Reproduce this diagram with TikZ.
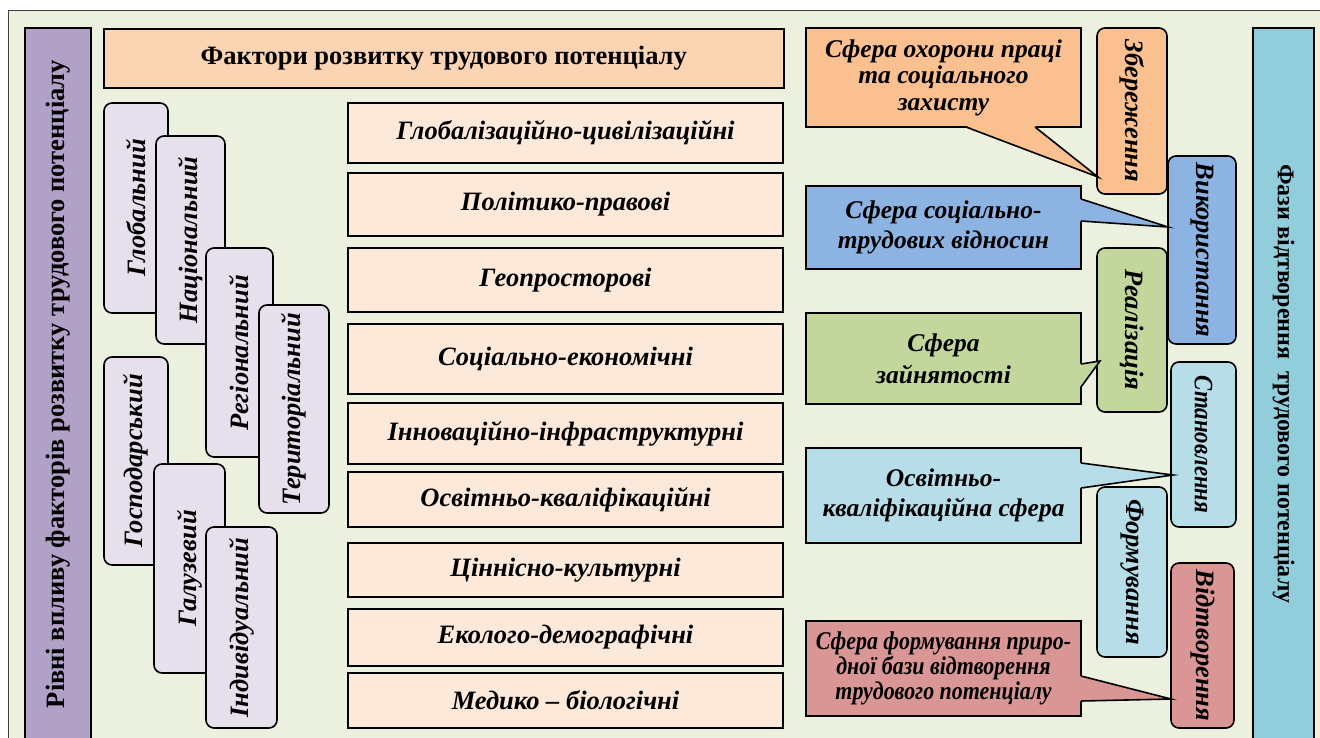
\documentclass[tikz,border=0pt]{standalone}
\usepackage{fontspec}
\setmainfont{Liberation Serif}
\newfontfamily\condserif[FakeStretch=0.86]{Liberation Serif}
\usepackage{tikz}
\usetikzlibrary{positioning,calc}

\definecolor{bgGreen}{HTML}{EBF1DE}
\definecolor{lvlPurple}{HTML}{B2A1C7}
\definecolor{titleOrange}{HTML}{FBD4B4}
\definecolor{fctPeach}{HTML}{FDE9D9}
\definecolor{lvlLav}{HTML}{E5E0EC}
\definecolor{zbOrange}{HTML}{FAC090}
\definecolor{vkBlue}{HTML}{8DB3E2}
\definecolor{rlGreen}{HTML}{C3D69B}
\definecolor{stCyan}{HTML}{B7DEE8}
\definecolor{vtRed}{HTML}{D99694}
\definecolor{phTeal}{HTML}{92CDDC}

\newcommand{\bigtxt}{\fontsize{26.5}{30}\selectfont}
\newcommand{\midtxt}{\fontsize{24}{26}\selectfont}

\begin{document}
\begin{tikzpicture}[x=1pt,y=-1pt,line width=1.6pt,
  bar/.style={draw,inner sep=0pt,font=\bfseries\bigtxt},
  fct/.style={draw,fill=fctPeach,inner sep=0pt,outer sep=0pt,minimum width=435pt,font=\bfseries\itshape\bigtxt},
  lvl/.style={draw,fill=lvlLav,rounded corners=8pt,rotate=90,inner sep=0pt,font=\bfseries\itshape\bigtxt},
  phase/.style={draw,rounded corners=8pt,rotate=-90,inner sep=0pt,outer sep=0pt,font=\bfseries\itshape\bigtxt},
  sfera/.style={draw,anchor=north west,inner sep=0pt,outer sep=0pt,minimum width=275pt,align=center,font=\bfseries\itshape\fontsize{25.5}{30}\selectfont}]
\useasboundingbox (0,0) rectangle (1320,737);
\fill[white] (0,0) rectangle (1320,737);
\draw[fill=bgGreen,draw=black!75,line width=1pt] (8,10) rectangle (1330,745);

% side bars
\node[bar,fill=lvlPurple,rotate=90,minimum width=712pt,minimum height=66pt] (rivni) at (58,384)
  {Рівні впливу факторів розвитку трудового потенціалу};
\node[bar,fill=phTeal,rotate=-90,minimum width=712pt,minimum height=61pt,font=\bfseries\midtxt] (fazy) at (1283.5,384)
  {Фази відтворення \ трудового потенціалу};

% factors
\node[draw,fill=titleOrange,anchor=north west,minimum width=680pt,minimum height=59pt,inner sep=0pt,font=\bfseries\bigtxt] (title) at (103,28)
  {Фактори розвитку трудового потенціалу};
\node[fct,anchor=north west,minimum height=60pt] (f1) at (348,103) {Глобалізаційно-цивілізаційні};
\node[fct,below=10pt of f1,minimum height=63pt] (f2) {Політико-правові};
\node[fct,below=12pt of f2,minimum height=64pt] (f3) {Геопросторові};
\node[fct,below=12pt of f3,minimum height=70pt] (f4) {Соціально-економічні};
\node[fct,below=9pt of f4,minimum height=61pt] (f5) {Інноваційно-інфраструктурні};
\node[fct,below=8pt of f5,minimum height=55pt] (f6) {Освітньо-кваліфікаційні};
\node[fct,below=16pt of f6,minimum height=54pt] (f7) {Ціннісно-культурні};
\node[fct,below=12pt of f7,minimum height=57pt] (f8) {Еколого-демографічні};
\node[fct,below=7pt of f8,minimum height=55pt] (f9) {Медико – біологічні};

% levels
\node[lvl,minimum width=210pt,minimum height=64pt] (glob) at (136,208) {Глобальний};
\node[lvl,minimum width=208pt,minimum height=69pt] (nats) at (190.5,240) {Національний};
\node[lvl,minimum width=209pt,minimum height=67pt] (reg) at (239.5,352.5) {Регіональний};
\node[lvl,minimum width=208pt,minimum height=70pt] (ter) at (294,409) {Територіальний};
\node[lvl,minimum width=208pt,minimum height=64pt] (gosp) at (136,461) {Господарський};
\node[lvl,minimum width=209pt,minimum height=71pt] (galuz) at (189.5,568.5) {Галузевий};
\node[lvl,minimum width=201pt,minimum height=71pt] (indyv) at (241.5,627.5) {Індивідуальний};

% spheres
\node[sfera,fill=zbOrange,minimum height=99pt,font=\bfseries\itshape\fontsize{25.5}{26.5}\selectfont] (ohor) at (806,28)
  {Сфера охорони праці\\та соціального\\захисту};
\node[sfera,fill=vkBlue,minimum height=83pt] (sots) at (806,186) {Сфера соціально-\\трудових відносин};
\node[sfera,fill=rlGreen,minimum height=91pt,font=\bfseries\itshape\fontsize{25.5}{32}\selectfont] (zain) at (806,313) {Сфера\\зайнятості};
\node[sfera,fill=stCyan,minimum height=95pt] (osv) at (806,448) {Освітньо-\\кваліфікаційна сфера};
\node[sfera,fill=vtRed,minimum height=95pt,font=\condserif\bfseries\itshape\fontsize{25.5}{25}\selectfont] (pryr) at (806,621)
  {Сфера формування приро-\\дної бази відтворення\\трудового потенціалу};

% phases
\node[phase,fill=zbOrange,minimum width=166pt,minimum height=70pt] (zber) at (1132,111) {Збереження};
\node[phase,fill=vkBlue,minimum width=188pt,minimum height=68pt] (vykor) at (1202,250) {Використання};
\node[phase,fill=rlGreen,minimum width=164pt,minimum height=70pt] (real) at (1132,330) {Реалізація};
\node[phase,fill=stCyan,minimum width=165pt,minimum height=65pt,font=\condserif\bfseries\itshape\bigtxt] (stan) at (1203.5,444.5) {Становлення};
\node[phase,fill=stCyan,minimum width=170pt,minimum height=70pt] (form) at (1132,572) {Формування};
\node[phase,fill=vtRed,minimum width=165pt,minimum height=63pt] (vidtv) at (1202.5,645.5) {Відтворення};

% pointers
\fill[zbOrange] ($(ohor.south west)+(160,-1)$) -- ($(zber.south east)+(1,-17)$) -- ($(ohor.south west)+(229,-1)$) -- cycle;
\draw ($(ohor.south west)+(160,0)$) -- ($(zber.south east)+(1,-17)$) -- ($(ohor.south west)+(229,0)$);
\fill[vkBlue] ($(sots.north east)+(-1,13)$) -- ($(vykor.south west)+(0,71)$) -- ($(sots.north east)+(-1,35)$) -- cycle;
\draw ($(sots.north east)+(0,13)$) -- ($(vykor.south west)+(0,71)$) -- ($(sots.north east)+(0,35)$);
\fill[rlGreen] ($(zain.north east)+(-1,51)$) -- ($(real.south west)+(3,113)$) -- ($(zain.north east)+(-1,74)$) -- cycle;
\draw ($(zain.north east)+(0,51)$) -- ($(real.south west)+(3,113)$) -- ($(zain.north east)+(0,74)$);
\fill[stCyan] ($(osv.north east)+(-1,15)$) -- ($(stan.south west)+(2,113)$) -- ($(osv.north east)+(-1,40)$) -- cycle;
\draw ($(osv.north east)+(0,15)$) -- ($(stan.south west)+(2,113)$) -- ($(osv.north east)+(0,40)$);
\fill[vtRed] ($(pryr.north east)+(-1,55)$) -- ($(vidtv.south west)+(0,136)$) -- ($(pryr.north east)+(-1,80)$) -- cycle;
\draw ($(pryr.north east)+(0,55)$) -- ($(vidtv.south west)+(0,136)$) -- ($(pryr.north east)+(0,80)$);
\end{tikzpicture}
\end{document}
